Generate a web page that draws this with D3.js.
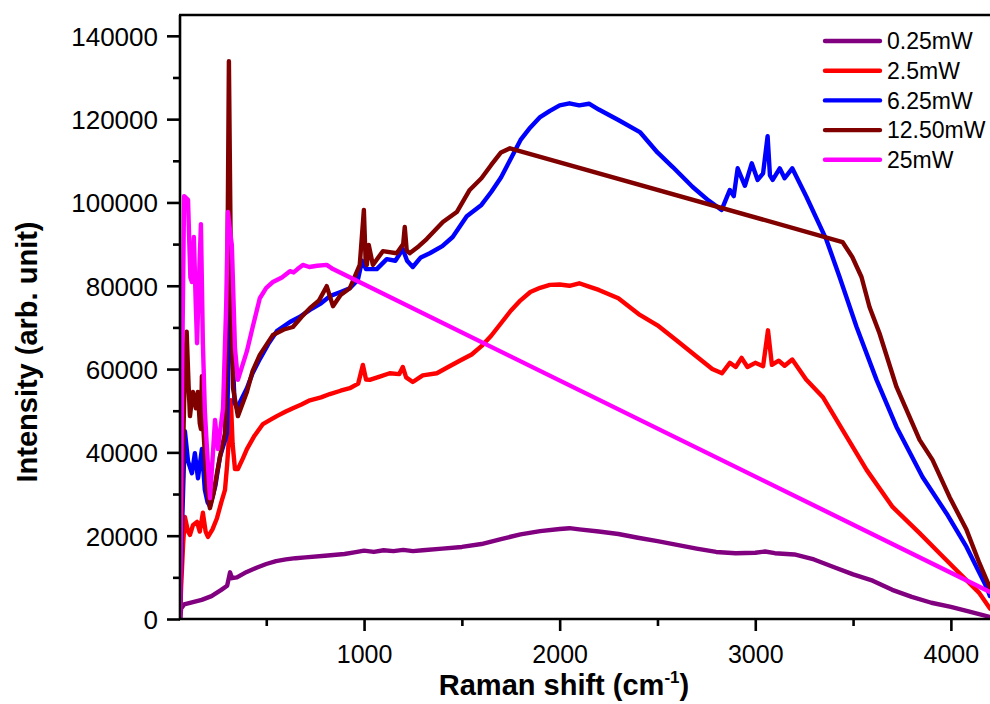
<!DOCTYPE html>
<html>
<head>
<meta charset="utf-8">
<script src="https://cdn.jsdelivr.net/npm/d3@7"></script>
<style>
  html, body { margin: 0; padding: 0; background: #fff; }
  svg { display: block; }
  text { font-family: "Liberation Sans", Arial, sans-serif; fill: #000; }
</style>
</head>
<body>
<div id="viz"></div>
<script>
// Raman spectra at several laser powers, [shift (cm-1), intensity]
const p0_25 = [[59,0],[65,2500],[80,3500],[120,4000],[170,4600],[220,5500],[270,7000],[300,8000],[315,11200],[325,9800],[350,10000],[400,11300],[450,12300],[500,13200],[550,13900],[600,14300],[650,14600],[700,14800],[800,15200],[900,15600],[950,16000],[1000,16400],[1050,16100],[1100,16500],[1150,16300],[1200,16600],[1250,16300],[1300,16500],[1400,16900],[1500,17300],[1600,18000],[1700,19200],[1800,20300],[1900,21100],[2000,21600],[2050,21800],[2100,21500],[2200,21000],[2300,20400],[2400,19500],[2500,18700],[2600,17800],[2700,16900],[2800,16100],[2900,15800],[3000,15900],[3050,16200],[3100,15800],[3200,15500],[3300,14300],[3400,12500],[3500,10700],[3600,9200],[3700,7000],[3800,5300],[3900,3900],[4000,2900],[4100,1700],[4200,500]];

const p2_5 = [[59,0],[65,8000],[75,18000],[84,24500],[100,21000],[110,20200],[125,22500],[146,23300],[160,21000],[176,25500],[190,21000],[202,19700],[225,21500],[248,24200],[270,28000],[289,31000],[300,37000],[310,44000],[319,52500],[328,42000],[340,36000],[355,36000],[380,38500],[401,40800],[440,44000],[483,46800],[520,47800],[554,48700],[600,49800],[636,50600],[680,51500],[723,52500],[780,53200],[825,54000],[880,54800],[927,55400],[970,56500],[994,61000],[1010,57500],[1029,57400],[1080,58200],[1131,59000],[1180,58800],[1198,60500],[1215,58000],[1249,56900],[1300,58500],[1372,59000],[1430,60500],[1489,62000],[1550,63500],[1600,65500],[1650,68000],[1700,71000],[1750,74000],[1800,76500],[1850,78500],[1900,79500],[1950,80200],[2000,80300],[2050,80000],[2100,80600],[2150,79800],[2200,79000],[2300,77000],[2410,73000],[2500,70500],[2600,66800],[2700,63000],[2780,60000],[2830,59000],[2870,61500],[2900,60500],[2930,62700],[2960,60500],[3000,61500],[3040,60700],[3065,69300],[3085,61000],[3120,62000],[3150,60800],[3189,62300],[3260,57500],[3345,53300],[3446,45400],[3569,35800],[3702,26900],[3840,20600],[3942,15800],[4044,11000],[4146,6200],[4200,2500]];

const p6_25 = [[59,0],[68,20000],[84,45100],[100,37900],[120,35000],[135,39800],[151,33800],[171,40800],[186,31000],[200,28000],[212,27100],[240,32000],[263,38900],[290,43000],[299,44600],[310,70000],[318,82000],[326,65000],[338,52000],[350,50600],[401,55400],[430,59000],[467,62400],[510,66000],[554,69100],[621,71300],[670,72500],[723,74200],[780,75800],[825,77500],[880,78500],[927,79400],[968,81400],[990,86000],[1010,84000],[1065,84000],[1116,86400],[1160,86000],[1198,88800],[1220,86000],[1249,84500],[1290,86800],[1336,87800],[1400,89500],[1453,91700],[1525,96700],[1600,99400],[1650,102500],[1700,106000],[1750,110500],[1800,115000],[1850,118000],[1900,120500],[1950,122000],[2000,123300],[2050,123800],[2100,123300],[2150,123700],[2200,122300],[2300,119800],[2410,116900],[2500,112000],[2578,108500],[2680,103700],[2760,100500],[2828,98200],[2870,103000],[2890,101500],[2910,108200],[2947,104000],[2982,109400],[3012,105400],[3040,107000],[3063,115900],[3075,106500],[3089,105400],[3125,108200],[3150,105800],[3189,108200],[3262,101300],[3364,91000],[3431,82100],[3518,70100],[3620,57400],[3722,46100],[3855,34100],[3977,25400],[4080,17300],[4182,7700],[4200,5500]];

const p12_5 = [[59,0],[70,30000],[80,52000],[93,69000],[103,56000],[110,48700],[118,52000],[125,54500],[140,50600],[150,54500],[160,47000],[166,45600],[171,58300],[178,46000],[197,31000],[212,26600],[230,30000],[248,35000],[270,40500],[289,44600],[300,75000],[309,133900],[318,90000],[330,55400],[355,48700],[401,54500],[430,59500],[467,63400],[534,68200],[590,69500],[636,70100],[680,72500],[723,74600],[770,76500],[809,79900],[841,75100],[880,77800],[927,79400],[978,85000],[999,98200],[1008,86000],[1014,85000],[1024,89800],[1045,85000],[1096,88300],[1167,87800],[1200,90000],[1208,94100],[1218,88500],[1233,87800],[1280,89500],[1320,91200],[1403,95300],[1474,97700],[1540,103000],[1600,105800],[1650,109000],[1700,112000],[1746,113000],[3446,90500],[3496,86900],[3543,82100],[3584,74900],[3635,68600],[3722,55700],[3840,43000],[3906,38200],[3993,29300],[4080,21400],[4146,13400],[4200,7500]];

const p25 = [[59,0],[70,60000],[80,101500],[100,100600],[112,82000],[120,80900],[130,91700],[140,75000],[146,66200],[155,80000],[166,94800],[176,66200],[186,50000],[197,40800],[212,29000],[225,38000],[238,47800],[253,40800],[279,50600],[295,75000],[304,97700],[315,93000],[324,89800],[340,65000],[355,57400],[401,64300],[430,70000],[467,77000],[500,79500],[534,80900],[580,82000],[621,83500],[640,83200],[660,84000],[687,85000],[720,84500],[760,84800],[809,85000],[841,84000],[4200,6500]];

const seriesNames = ["0.25mW", "2.5mW", "6.25mW", "12.50mW", "25mW"];
const seriesData = [p0_25, p2_5, p6_25, p12_5, p25];
const seriesColors = ["#800080", "#ff0000", "#0000ff", "#800000", "#ff00ff"];

const xMajor = [1000, 2000, 3000, 4000];
const xMinor = [500, 1500, 2500, 3500];
const yMajor = [0, 20000, 40000, 60000, 80000, 100000, 120000, 140000];
const yMinor = [10000, 30000, 50000, 70000, 90000, 110000, 130000];

const W = 990, H = 704;
const plot = { left: 180, right: 991, top: 15, bottom: 619 };

const svg = d3.select("#viz").append("svg").attr("width", W).attr("height", H);
svg.append("rect").attr("width", W).attr("height", H).attr("fill", "#fff");

const x = d3.scaleLinear().domain([59, 4200]).range([plot.left, plot.right - 1]);
const y = d3.scaleLinear().domain([0, 145000]).range([plot.bottom, plot.top]);

// curves (clip to plot)
svg.append("clipPath").attr("id", "clip")
  .append("rect").attr("x", plot.left).attr("y", plot.top)
  .attr("width", plot.right - plot.left).attr("height", plot.bottom - plot.top);

const line = d3.line().x(d => x(d[0])).y(d => y(d[1]));
const gLines = svg.append("g").attr("clip-path", "url(#clip)");
seriesData.forEach((d, i) => {
  gLines.append("path")
    .attr("d", line(d))
    .attr("fill", "none")
    .attr("stroke", seriesColors[i])
    .attr("stroke-width", 4.4)
    .attr("stroke-linejoin", "round")
    .attr("stroke-linecap", "round");
});

// axes
const axisW = 2.6;
const xAxis = svg.append("g").attr("transform", `translate(0,${plot.bottom})`)
  .call(d3.axisBottom(x).tickValues(xMajor).tickSize(12).tickSizeOuter(0).tickPadding(14).tickFormat(d3.format("d")));
svg.append("g").attr("transform", `translate(0,${plot.bottom})`)
  .call(d3.axisBottom(x).tickValues(xMinor).tickSize(7).tickSizeOuter(0).tickFormat(""))
  .select(".domain").remove();

const yAxis = svg.append("g").attr("transform", `translate(${plot.left},0)`)
  .call(d3.axisLeft(y).tickValues(yMajor).tickSize(13).tickSizeOuter(0).tickPadding(9).tickFormat(d3.format("d")));
svg.append("g").attr("transform", `translate(${plot.left},0)`)
  .call(d3.axisLeft(y).tickValues(yMinor).tickSize(7).tickSizeOuter(0).tickFormat(""))
  .select(".domain").remove();

svg.selectAll(".domain, .tick line").attr("stroke", "#000").attr("stroke-width", axisW);
xAxis.select(".domain").attr("d", `M${plot.left - 1},0H${plot.right}`);
yAxis.select(".domain").attr("d", `M0,${plot.bottom + 1}V${plot.top}`);
xAxis.selectAll(".tick text").attr("font-size", 25).attr("font-family", "Liberation Sans, Arial, sans-serif");
yAxis.selectAll(".tick text").attr("font-size", 26).attr("font-family", "Liberation Sans, Arial, sans-serif").attr("dy", "0.36em");

// top frame
svg.append("line").attr("x1", plot.left - 1).attr("x2", plot.right)
  .attr("y1", plot.top).attr("y2", plot.top)
  .attr("stroke", "#000").attr("stroke-width", axisW);

// axis titles
const xt = svg.append("text").attr("x", 564).attr("y", 695)
  .attr("text-anchor", "middle").attr("font-size", 29).attr("font-weight", "bold");
xt.append("tspan").text("Raman shift (cm");
xt.append("tspan").attr("font-size", 17).attr("dy", -12).text("-1");
xt.append("tspan").attr("dy", 12).text(")");

svg.append("text")
  .attr("transform", `translate(37,352) rotate(-90)`)
  .attr("text-anchor", "middle").attr("font-size", 29).attr("font-weight", "bold")
  .text("Intensity (arb. unit)");

// legend
const leg = svg.append("g").attr("transform", "translate(825,41)");
seriesNames.forEach((name, i) => {
  const g = leg.append("g").attr("transform", `translate(0,${i * 29.7})`);
  g.append("line").attr("x1", 0).attr("x2", 55).attr("y1", 0).attr("y2", 0)
    .attr("stroke", seriesColors[i]).attr("stroke-width", 4.4).attr("stroke-linecap", "round");
  g.append("text").attr("x", 62).attr("y", 0).attr("dy", "0.36em")
    .attr("font-size", 23).text(name);
});
</script>
</body>
</html>
